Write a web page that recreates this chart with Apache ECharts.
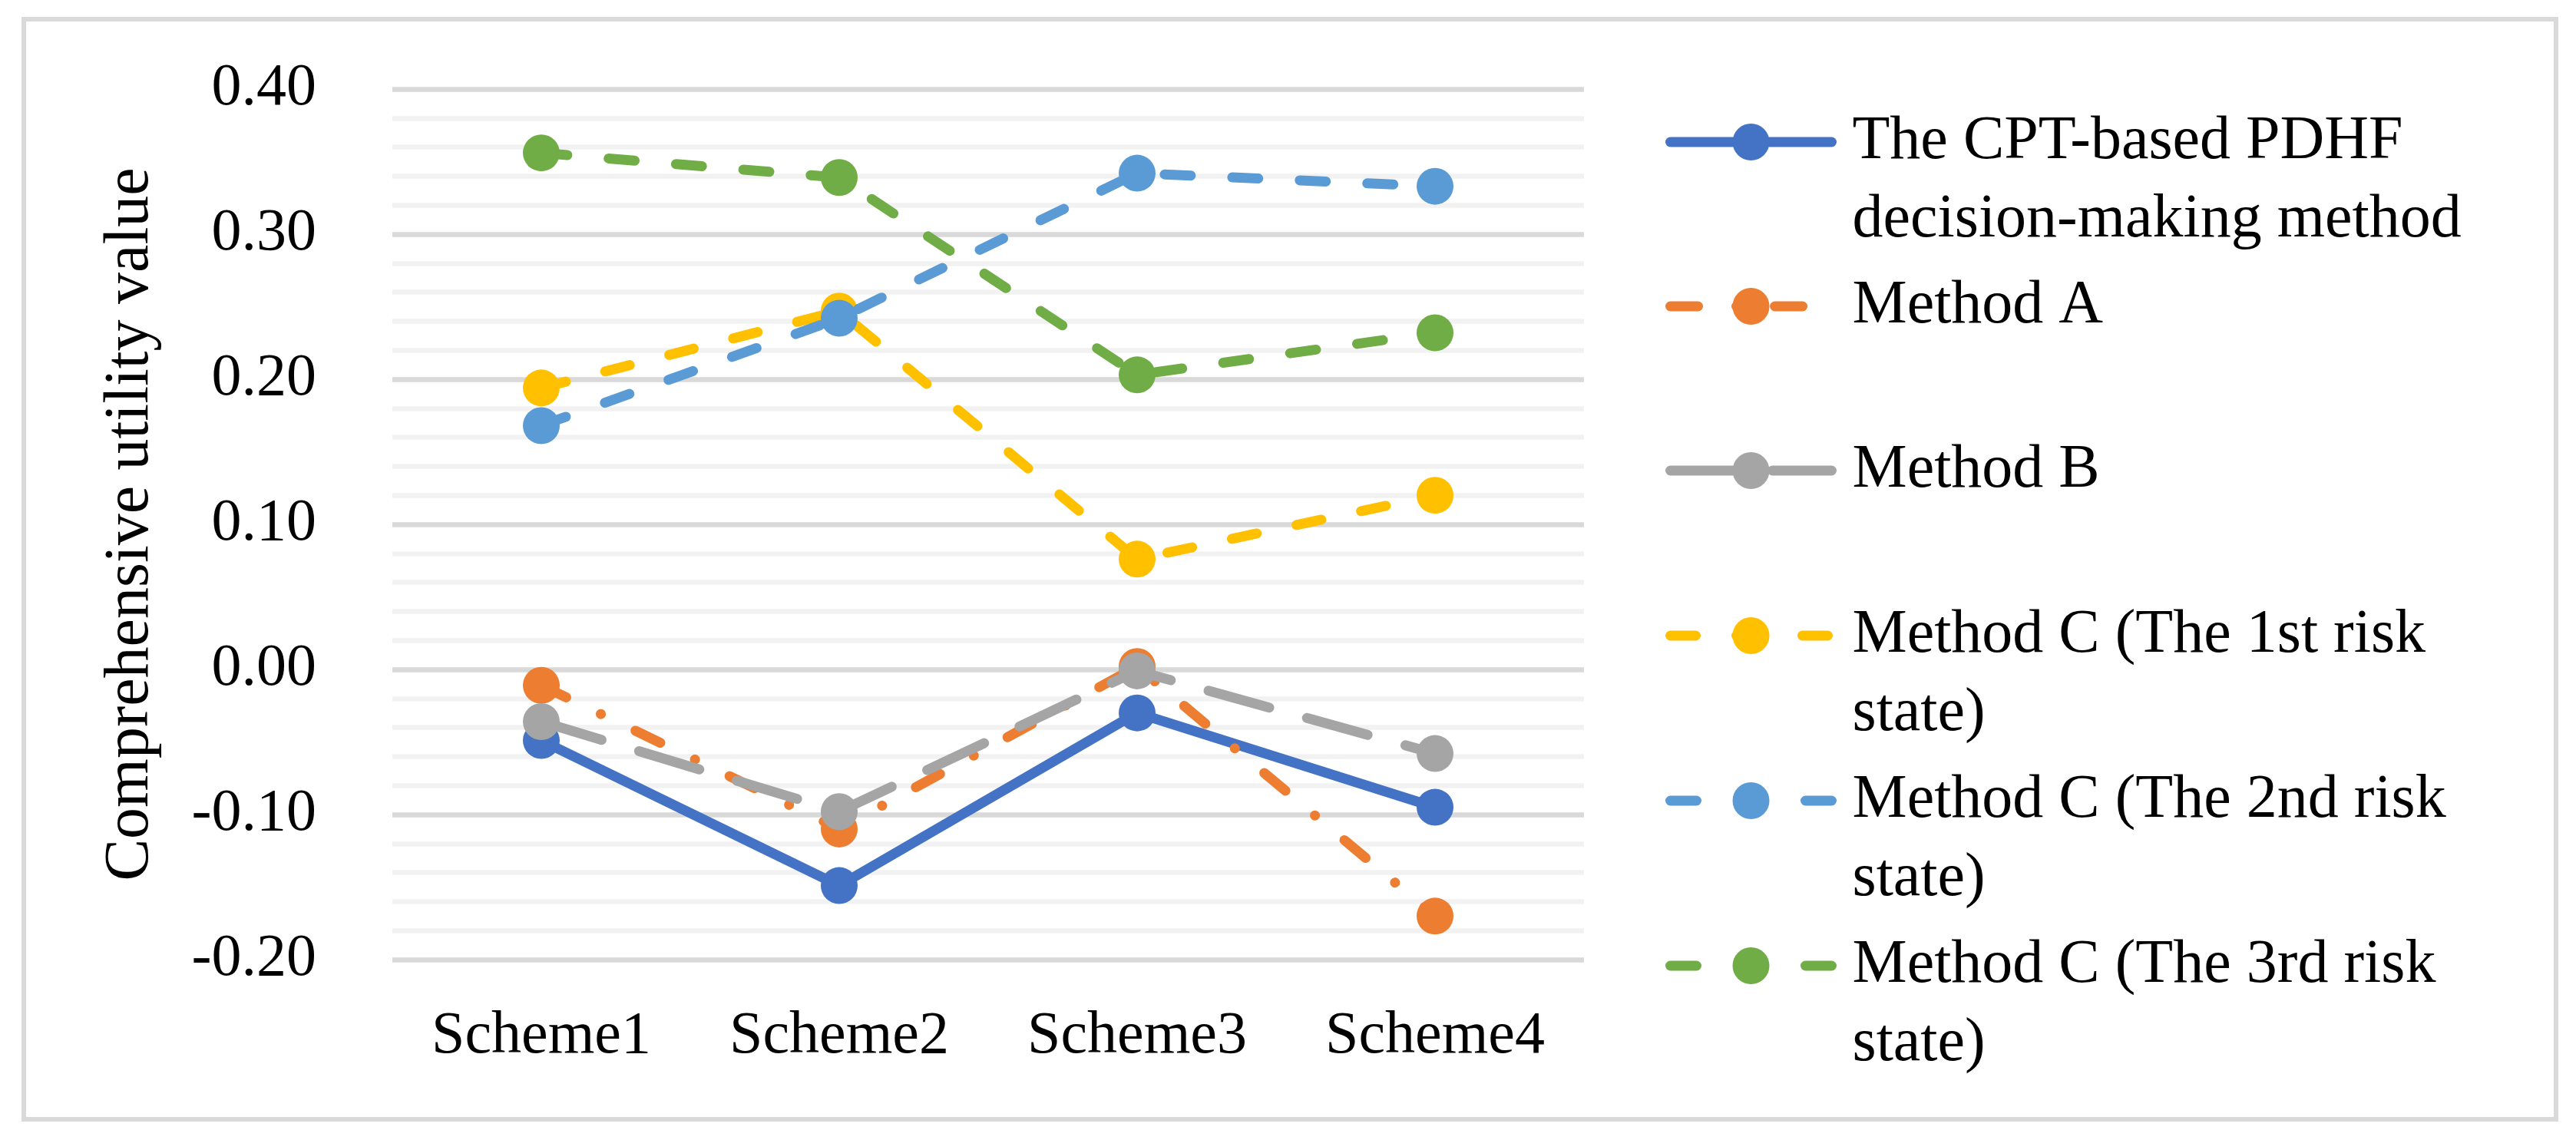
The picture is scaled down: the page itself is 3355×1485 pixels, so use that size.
<!DOCTYPE html>
<html>
<head>
<meta charset="utf-8">
<script src="https://cdn.jsdelivr.net/npm/echarts@6/dist/echarts.min.js"></script>
<style>
html,body{margin:0;padding:0;background:#fff;}
#chart{width:3355px;height:1485px;}
</style>
</head>
<body>
<div id="chart"></div>
<script>
// ---- data ----
const categories = ['Scheme1', 'Scheme2', 'Scheme3', 'Scheme4'];
const seriesNames = [
  'The CPT-based PDHF decision-making method',
  'Method A',
  'Method B',
  'Method C (The 1st risk state)',
  'Method C (The 2nd risk state)',
  'Method C (The 3rd risk state)'
];
const legendLines = [
  ['The CPT-based PDHF', 'decision-making method'],
  ['Method A'],
  ['Method B'],
  ['Method C (The 1st risk', 'state)'],
  ['Method C (The 2nd risk', 'state)'],
  ['Method C (The 3rd risk', 'state)']
];
const cptValues = [-0.049, -0.149, -0.030, -0.095];
const methodAValues = [-0.011, -0.110, 0.002, -0.170];
const methodBValues = [-0.036, -0.098, -0.001, -0.058];
const methodC1Values = [0.194, 0.247, 0.076, 0.120];
const methodC2Values = [0.168, 0.242, 0.342, 0.333];
const methodC3Values = [0.356, 0.339, 0.203, 0.232];
const yMin = -0.2, yMax = 0.4, yInterval = 0.1;

// ---- styles ----
const colors = ['#4472C4', '#ED7D31', '#A5A5A5', '#FFC000', '#5B9BD5', '#70AD47'];
const dashes = ['solid', [36, 50, 0.1, 50], [82, 51], [33, 53], [34, 54], [34, 54]];
const allValues = [cptValues, methodAValues, methodBValues, methodC1Values, methodC2Values, methodC3Values];
const legendIconY = [185, 399, 613, 828, 1043, 1258];
const LH = 102;

const chart = echarts.init(document.getElementById('chart'));

const series = seriesNames.map((name, i) => ({
  name: name,
  type: 'line',
  data: allValues[i],
  symbol: 'circle',
  symbolSize: 48,
  showSymbol: true,
  itemStyle: { color: colors[i] },
  lineStyle: { color: colors[i], width: 13, type: dashes[i], cap: 'round', join: 'round' },
  emphasis: { disabled: true },
  z: 2 + i
}));

const legends = seriesNames.map((name, i) => ({
  data: [name],
  orient: 'vertical',
  left: 2169,
  top: legendIconY[i] - 1.5 * LH,
  padding: 0,
  itemWidth: 210,
  itemHeight: 60,
  selectedMode: false,
  lineStyle: { width: 13, type: dashes[i], cap: 'round', color: colors[i] },
  textStyle: {
    fontFamily: 'Liberation Serif',
    fontSize: 80,
    lineHeight: LH,
    color: '#000',
    padding: [0, 0, 0, 22]
  },
  formatter: function (n) {
    const idx = seriesNames.indexOf(n);
    const l = legendLines[idx];
    return ' \n' + l[0] + '\n' + (l[1] || ' ');
  }
}));

chart.setOption({
  animation: false,
  backgroundColor: '#ffffff',
  grid: { left: 511, right: 1292, top: 116, bottom: 235, containLabel: false },
  xAxis: {
    type: 'category',
    data: categories,
    boundaryGap: true,
    axisLine: { show: false },
    axisTick: { show: false },
    splitLine: { show: false },
    axisLabel: { fontFamily: 'Liberation Serif', fontSize: 78, color: '#000', margin: 62 }
  },
  yAxis: {
    type: 'value',
    min: yMin,
    max: yMax,
    interval: yInterval,
    axisLine: { show: false },
    axisTick: { show: false },
    axisLabel: {
      fontFamily: 'Liberation Serif', fontSize: 78, color: '#000', margin: 99,
      formatter: v => v.toFixed(2)
    },
    splitLine: { show: true, lineStyle: { color: '#d9d9d9', width: 6.5 } },
    minorTick: { show: false, splitNumber: 5 },
    minorSplitLine: { show: true, lineStyle: { color: '#f2f2f2', width: 6.5 } },
    name: 'Comprehensive utility value',
    nameLocation: 'middle',
    nameRotate: 90,
    nameGap: 300,
    nameTextStyle: { fontFamily: 'Liberation Serif', fontSize: 82, color: '#000' }
  },
  legend: legends,
  graphic: [{
    type: 'rect',
    silent: true,
    z: -10,
    shape: { x: 31, y: 25, width: 3298, height: 1433 },
    style: { fill: 'none', stroke: '#d9d9d9', lineWidth: 6 }
  }],
  series: series
});
</script>
</body>
</html>
